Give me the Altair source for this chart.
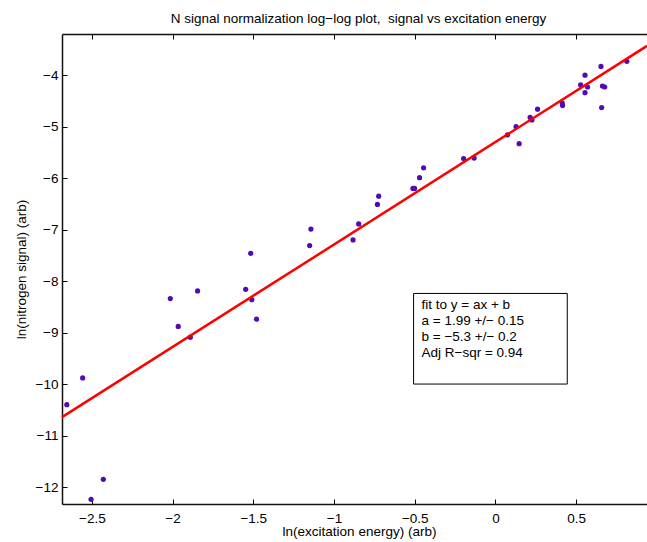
import altair as alt
import pandas as pd

# ---- data ----
ln_energy = [-2.655, -2.557, -2.505, -2.429, -2.014, -1.965, -1.890, -1.845,
             -1.547, -1.509, -1.480, -1.516, -1.143, -1.151, -0.882, -0.847,
             -0.731, -0.723, -0.511, -0.501, -0.470, -0.445, -0.197, -0.132,
             0.075, 0.147, 0.128, 0.215, 0.226, 0.261, 0.414, 0.416,
             0.528, 0.555, 0.555, 0.571, 0.654, 0.658, 0.663, 0.677, 0.814]
ln_signal = [-10.40, -9.88, -12.24, -11.85, -8.34, -8.88, -9.09, -8.19,
             -8.16, -8.36, -8.74, -7.46, -6.99, -7.31, -7.20, -6.89,
             -6.51, -6.35, -6.20, -6.20, -5.99, -5.80, -5.62, -5.61,
             -5.16, -5.33, -5.00, -4.82, -4.87, -4.66, -4.54, -4.59,
             -4.19, -4.00, -4.34, -4.23, -3.83, -4.63, -4.21, -4.23, -3.73]

fit_a = 1.99
fit_b = -5.3

x_domain = [-2.685, 0.939]
y_domain = [-12.33, -3.2]
x_ticks = [-2.5, -2, -1.5, -1, -0.5, 0, 0.5]
y_ticks = [-12, -11, -10, -9, -8, -7, -6, -5, -4]

box_x = [-0.507, 0.445]
box_y = [-10.0, -8.24]
text_x = -0.458
text_y = -8.33
box_lines = ["fit to y = ax + b", "a = 1.99 +/\u2212 0.15",
             "b = \u22125.3 +/\u2212 0.2", "Adj R\u2212sqr = 0.94"]

title_text = "N signal normalization log\u2212log plot,\u00a0 signal vs excitation energy"
x_title = "ln(excitation energy) (arb)"
y_title = "ln(nitrogen signal) (arb)"

# ---- tables ----
pts = pd.DataFrame({"x": ln_energy, "y": ln_signal})
fit = pd.DataFrame({"x": x_domain, "y": [fit_a * v + fit_b for v in x_domain]})
box = pd.DataFrame({"x": [box_x[0]], "x2": [box_x[1]], "y": [box_y[0]], "y2": [box_y[1]]})
txt = pd.DataFrame({"x": [text_x], "y": [text_y], "t": ["\n".join(box_lines)]})

FONT = "Liberation Sans"
FS = 13.5
W, H = 585, 470
xs = alt.Scale(domain=x_domain, nice=False, zero=False)
ys = alt.Scale(domain=y_domain, nice=False, zero=False)
INWARD = {"expr": "-5"}
DW = 1.5

points = alt.Chart(pts).mark_circle(size=27, color="#4F0CB5", opacity=1).encode(
    x=alt.X("x:Q", scale=xs, axis=alt.Axis(
        values=x_ticks, title=x_title, grid=False, tickSize=INWARD,
        labelPadding=12, domainColor="#111111", domainWidth=DW, tickColor="black",
        labelColor="black", titleColor="black", labelFontSize=FS,
        titleFontSize=FS, titleFontWeight="normal", titlePadding=0,
        titleX=297, labelFont=FONT, titleFont=FONT, format="~g")),
    y=alt.Y("y:Q", scale=ys, axis=alt.Axis(
        values=y_ticks, title=y_title, grid=False, tickSize=INWARD,
        labelPadding=9, domainColor="#111111", domainWidth=DW, tickColor="black",
        labelColor="black", titleColor="black", labelFontSize=FS,
        titleFontSize=FS, titleFontWeight="normal", titlePadding=7,
        labelFont=FONT, titleFont=FONT, format="~g")),
)

top_axis = alt.Chart(pts).mark_circle(opacity=0).encode(
    x=alt.X("x:Q", scale=xs, axis=alt.Axis(
        orient="top", values=x_ticks, labels=False, title=None, grid=False,
        tickSize=INWARD, domainColor="#111111", domainWidth=DW, tickColor="black")),
    y=alt.Y("y:Q", scale=ys, axis=None),
)

line = alt.Chart(fit).mark_line(color="#FF0000", strokeWidth=2.5).encode(
    x=alt.X("x:Q", scale=xs, axis=None),
    y=alt.Y("y:Q", scale=ys, axis=None),
)

rect = alt.Chart(box).mark_rect(fill="white", stroke="black", strokeWidth=1).encode(
    x=alt.X("x:Q", scale=xs, axis=None), x2="x2:Q",
    y=alt.Y("y:Q", scale=ys, axis=None), y2="y2:Q",
)

label = alt.Chart(txt).mark_text(
    align="left", baseline="top", lineBreak="\n", lineHeight=16,
    fontSize=FS, font=FONT, color="black").encode(
    x=alt.X("x:Q", scale=xs, axis=None),
    y=alt.Y("y:Q", scale=ys, axis=None),
    text="t:N",
)

chart = alt.layer(points, top_axis, line, rect, label).resolve_axis(
    x="independent", y="independent"
).properties(
    width=W, height=H,
    title=alt.TitleParams(title_text, fontSize=FS, fontWeight="normal",
                          font=FONT, color="black", anchor="middle", dx=4, offset=8),
    autosize=alt.AutoSizeParams(type="none"),
    padding={"left": 62, "top": 34, "right": 0, "bottom": 38},
    background="white",
).configure_view(stroke=None)

chart.save("out.html", embed_options={"renderer": "svg", "actions": False})
